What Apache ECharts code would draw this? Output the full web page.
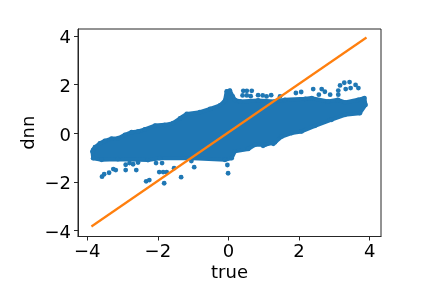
<!DOCTYPE html>
<html><head><meta charset="utf-8">
<style>html,body{margin:0;padding:0;background:#fff}#c{width:432px;height:288px}</style>
<script src="https://cdn.jsdelivr.net/npm/echarts@6/dist/echarts.min.js"></script>
</head><body><div id="c"></div>
<script>
const xTicks = [-4,-2,0,2,4];
const yTicks = [-4,-2,0,2,4];
const xLabel = 'true';
const yLabel = 'dnn';
// Centres of the points along the edge of the dense cloud as [true, dnn]
const cloudUpper = [[-3.83,-0.69],[-3.78,-0.58],[-3.64,-0.42],[-3.50,-0.32],[-3.31,-0.23],[-3.12,-0.21],[-2.93,-0.07],[-2.74,0.04],[-2.56,0.07],[-2.37,0.15],[-2.08,0.31],[-1.80,0.34],[-1.57,0.41],[-1.37,0.61],[-1.18,0.79],[-0.81,0.86],[-0.52,1.00],[-0.24,1.14],[-0.10,1.33],[-0.05,1.71],[0.04,1.75],[0.12,1.51],[0.18,1.37],[0.33,1.30],[0.84,1.34],[1.32,1.30],[1.60,1.37],[2.17,1.41],[2.36,1.44],[2.82,1.30],[3.10,1.37],[3.30,1.26],[3.67,1.37],[3.85,1.44],[3.88,1.16]];
const cloudLower = [[3.72,0.82],[3.30,0.75],[2.92,0.55],[2.45,0.30],[2.07,0.07],[1.79,0],[1.51,-0.14],[1.32,-0.38],[1.03,-0.48],[0.75,-0.48],[0.56,-0.65],[0.18,-0.75],[0.09,-1.03],[-0.10,-1.10],[-1.01,-1.03],[-1.94,-1.03],[-2.28,-1.11],[-3.13,-1.07],[-3.59,-1.10],[-3.83,-1.03],[-3.85,-0.76]];
// Individually visible points outside the cloud
const outliersLow = [[-3.58,-1.79],[-3.52,-1.69],[-3.38,-1.63],[-3.26,-1.48],[-3.19,-1.52],[-2.91,-1.52],[-2.91,-1.30],[-2.80,-1.23],[-2.70,-1.28],[-2.61,-1.52],[-2.56,-1.21],[-2.33,-1.98],[-2.24,-1.93],[-2.05,-1.23],[-1.96,-1.60],[-1.88,-1.23],[-1.85,-1.60],[-1.75,-1.60],[-1.82,-2.06],[-1.54,-1.44],[-1.34,-1.81],[-1.05,-1.15],[-0.97,-1.40],[-0.03,-1.31],[-0.01,-1.65],[1.27,-0.44],[0.98,-0.52]];
const outliersHigh = [[0.42,1.74],[0.52,1.74],[0.66,1.74],[0.40,1.55],[0.52,1.55],[0.63,1.52],[0.84,1.56],[0.97,1.55],[1.08,1.51],[1.21,1.56],[1.46,1.51],[1.91,1.65],[2.06,1.69],[2.40,1.81],[2.64,1.81],[2.73,1.70],[2.56,1.58],[2.88,1.58],[3.11,1.75],[3.16,1.96],[3.28,2.07],[3.43,2.10],[3.60,1.98],[3.68,1.85],[3.32,1.81],[3.46,1.85],[3.11,1.58]];
const refLine = [[-3.88,-3.84],[3.91,3.93]];

const blue = '#1f77b4', orange = '#ff7f0e', ink = '#262626';
const font = 'DejaVu Sans';
const chart = echarts.init(document.getElementById('c'), null, {renderer:'canvas'});
function axis(name, ticks, min, max, gap, pad){
  return {
    type:'value', min, max, name, nameLocation:'middle', nameGap:gap, nameMoveOverlap:false,
    nameTextStyle:{fontFamily:font,fontSize:18,color:'#000'},
    splitLine:{show:false},
    axisLine:{show:true,onZero:false,lineStyle:{color:ink,width:1}},
    axisTick:{show:true,length:4,lineStyle:{color:ink,width:1},customValues:ticks},
    axisLabel:{margin:7,customValues:ticks,
      rich:{t:{fontFamily:font,fontSize:18,color:'#000',padding:pad}},
      formatter:v=>'{t|'+String(v).replace('-','\u2212')+'}'}
  };
}
chart.setOption({
  animation:false,
  grid:{left:78,right:51,top:29,bottom:51.5,show:true,borderColor:ink,borderWidth:1,backgroundColor:'#fff'},
  xAxis:axis(xLabel,xTicks,-4.26,4.32,28,[0,0,0,0]),
  yAxis:axis(yLabel,yTicks,-4.25,4.28,40,[6,0,0,0]),
  series:[
    {type:'custom',silent:true,coordinateSystem:'cartesian2d',data:[[0,0]],
     renderItem:(p,api)=>({type:'polygon',
       shape:{points:cloudUpper.concat(cloudLower).map(d=>api.coord(d))},
       style:{fill:blue,stroke:blue,lineWidth:4,lineJoin:'round'}})},
    {type:'scatter',symbol:'circle',symbolSize:4.8,silent:true,itemStyle:{color:blue,opacity:1},
     data:cloudUpper.concat(cloudLower,outliersLow,outliersHigh)},
    {type:'line',data:refLine,showSymbol:false,silent:true,
     lineStyle:{color:orange,width:2.2}}
  ]
});
</script></body></html>
